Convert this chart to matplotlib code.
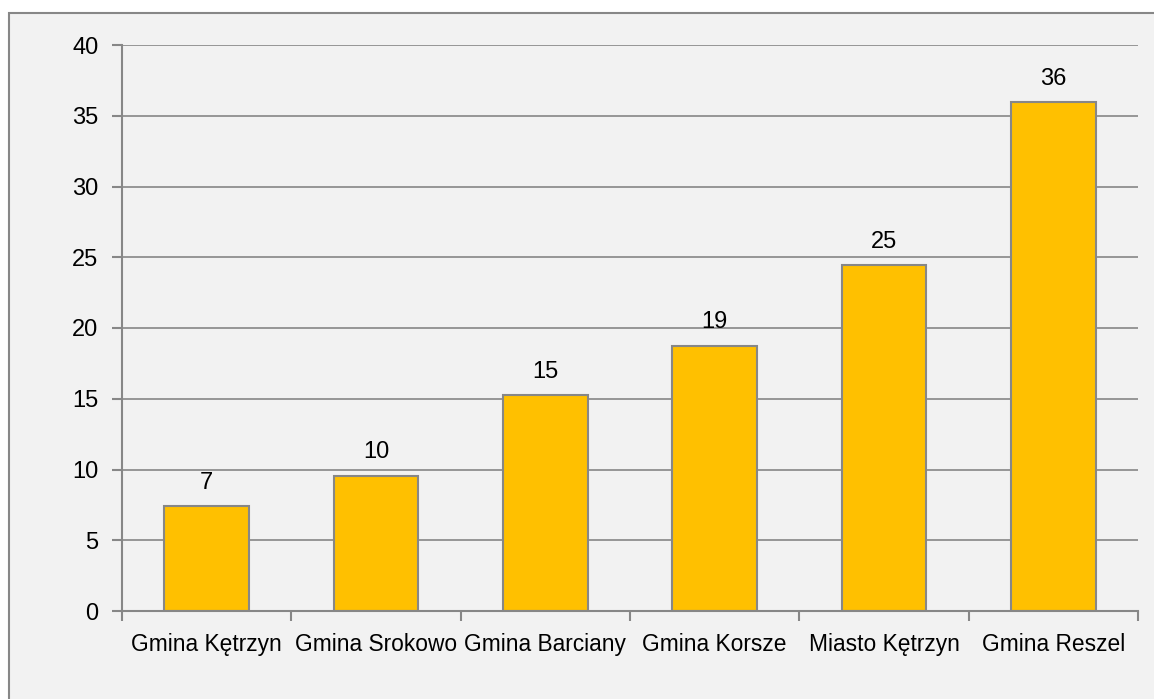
import matplotlib.pyplot as plt
from matplotlib.patches import Rectangle
import numpy as np

# dane z wykresu
gminy = ['Gmina Kętrzyn', 'Gmina Srokowo', 'Gmina Barciany',
         'Gmina Korsze', 'Miasto Kętrzyn', 'Gmina Reszel']
wartosci = [7.4, 9.55, 15.25, 18.75, 24.45, 35.95]
etykiety = ['7', '10', '15', '19', '25', '36']
y_ticks = [0, 5, 10, 15, 20, 25, 30, 35, 40]

plt.rcParams['font.family'] = ['Liberation Sans', 'DejaVu Sans']
plt.rcParams['font.size'] = 16.4

szary = '#878787'

fig = plt.figure(figsize=(11.54, 6.99), dpi=100)
fig.patch.set_facecolor('white')
# ramka obszaru wykresu
fig.patches.append(Rectangle((9 / 1154, -0.05), 1.1, 1 - 13 / 699 + 0.05,
                             transform=fig.transFigure, facecolor='#F2F2F2',
                             edgecolor=szary, linewidth=1.5, zorder=-10))

ax = fig.add_axes([122 / 1154, 1 - 611 / 699, (1138 - 122) / 1154, (611 - 45) / 699])
ax.set_facecolor('#F2F2F2')

x = np.arange(len(gminy))
slupki = ax.bar(x, wartosci, width=0.5, color='#FFC000', edgecolor=szary,
                linewidth=1.5, zorder=3)

for xi, v, lab in zip(x, wartosci, etykiety):
    ax.annotate(lab, (xi, v), xytext=(0, 9), textcoords='offset points',
                ha='center', va='bottom', color='black', fontsize=17)

ax.set_xlim(-0.5, len(gminy) - 0.5)
ax.set_ylim(0, 40)
ax.set_yticks(y_ticks)
ax.set_xticks(x)
ax.set_xticklabels(gminy)
ax.set_xticks(np.arange(-0.5, len(gminy)), minor=True)
ax.tick_params(axis='x', which='major', length=0, pad=16)
ax.tick_params(axis='x', which='minor', length=7, width=1.5, color=szary)
ax.tick_params(axis='y', length=7, width=1.5, color=szary, pad=10,
               labelsize=17)

ax.grid(axis='y', color=szary, linewidth=1.2, zorder=0)
ax.set_axisbelow(True)
for s in ['top', 'right']:
    ax.spines[s].set_visible(False)
for s in ['left', 'bottom']:
    ax.spines[s].set_color(szary)
    ax.spines[s].set_linewidth(1.5)
    ax.spines[s].set_zorder(4)

plt.savefig('out.png', dpi=100, facecolor=fig.get_facecolor())
